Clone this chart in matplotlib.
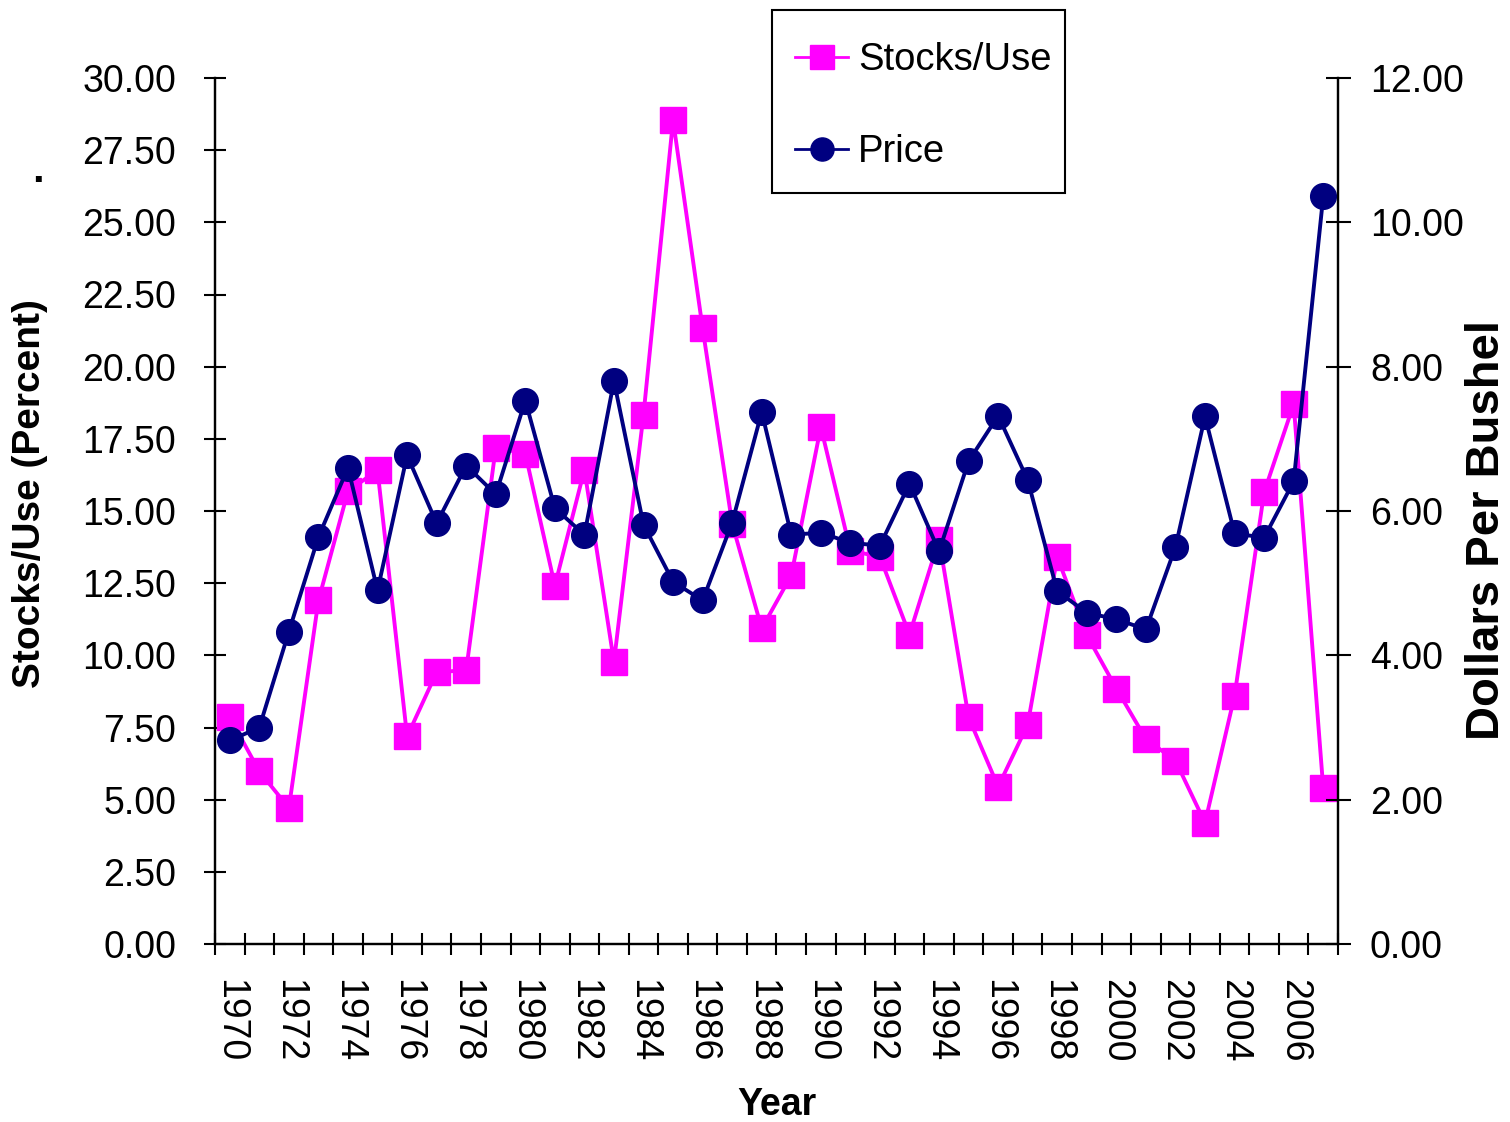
import matplotlib
matplotlib.use("Agg")
import matplotlib.pyplot as plt
from matplotlib.patches import Rectangle
from matplotlib.ticker import FixedLocator, FormatStrFormatter, NullFormatter
import numpy as np

years = list(range(1970, 2008))
stocks_use = [7.85, 5.98, 4.71, 11.9, 15.69, 16.41, 7.19, 9.41, 9.49, 17.19,
              16.99, 12.41, 16.43, 9.77, 18.34, 28.54, 21.33, 14.56, 10.93, 12.77,
              17.91, 13.63, 13.41, 10.72, 14.01, 7.85, 5.45, 7.6, 13.4, 10.7,
              8.85, 7.1, 6.35, 4.2, 8.6, 15.65, 18.7, 5.4]
price = [2.82, 3.0, 4.33, 5.64, 6.60, 4.90, 6.77, 5.83, 6.63, 6.23,
         7.53, 6.04, 5.67, 7.80, 5.81, 5.02, 4.76, 5.84, 7.37, 5.67,
         5.70, 5.56, 5.52, 6.38, 5.44, 6.69, 7.32, 6.43, 4.89, 4.59,
         4.50, 4.36, 5.50, 7.31, 5.69, 5.63, 6.41, 10.36]
left_ticks = [0, 2.5, 5, 7.5, 10, 12.5, 15, 17.5, 20, 22.5, 25, 27.5, 30]
right_ticks = [0, 2, 4, 6, 8, 10, 12]

FONT = ["Liberation Sans", "Arial", "DejaVu Sans"]
plt.rcParams["font.family"] = FONT

MAGENTA = "#FF00FF"
NAVY = "#000080"

W, H = 1510, 1122
fig = plt.figure(figsize=(W / 100, H / 100), dpi=100)
ax = fig.add_axes([215 / W, 1 - 944 / H, (1338 - 215) / W, (944 - 78) / H])
ax2 = ax.twinx()

x = np.arange(len(years))

l1, = ax.plot(x, stocks_use, color=MAGENTA, lw=2.8, marker="s", ms=18.5,
              mec=MAGENTA, mfc=MAGENTA, label="Stocks/Use", clip_on=False)
l2, = ax2.plot(x, price, color=NAVY, lw=2.8, marker="o", ms=18.5,
               mec=NAVY, mfc=NAVY, label="Price", clip_on=False)

ax.set_xlim(-0.5, len(years) - 0.5)
ax.set_ylim(0, 30)
ax2.set_ylim(0, 12)

for a in (ax, ax2):
    a.spines["top"].set_visible(False)
    for s in a.spines.values():
        s.set_linewidth(1.6)

# Left axis
ax.set_yticks(left_ticks)
ax.yaxis.set_major_formatter(FormatStrFormatter("%.2f"))
ax.tick_params(axis="y", direction="inout", length=16, width=1.5, pad=20,
               labelsize=27)

# Right axis
ax2.set_yticks(right_ticks)
ax2.yaxis.set_major_formatter(FormatStrFormatter("%.2f"))
ax2.tick_params(axis="y", direction="inout", length=18, width=1.5, pad=14,
                labelsize=27)

# Category axis: ticks at boundaries, labels at centres of every other year
ax.xaxis.set_major_locator(FixedLocator(np.arange(-0.5, len(years), 1.0)))
ax.xaxis.set_major_formatter(NullFormatter())
ax.tick_params(axis="x", which="major", direction="inout", length=16, width=1.5)
label_pos = x[::2]
ax.xaxis.set_minor_locator(FixedLocator(label_pos))
ax.set_xticklabels([str(years[i]) for i in label_pos], minor=True)
ax.tick_params(axis="x", which="minor", length=0, pad=25, labelsize=27,
               labelrotation=270)
for t in ax.get_xticklabels(minor=True):
    t.set_va("top")
    t.set_ha("center")

ax.set_xlabel("Year", fontsize=27, fontweight="bold", labelpad=18)

# Axis titles
fig.text(30 / W, 1 - 494 / H, "Stocks/Use (Percent)", fontsize=28,
         fontweight="bold", rotation=90, ha="center", va="center")
fig.text(1487 / W, 1 - 530 / H, "Dollars Per Bushel", fontsize=34,
         fontweight="bold", rotation=90, ha="center", va="center")

fig.text(38 / W, 1 - 182 / H, ".", fontsize=30, fontweight="bold",
         ha="center", va="baseline")

# Legend box and entries
fig.patches.append(Rectangle((772 / W, 1 - 193 / H), (1065 - 772) / W,
                             (193 - 10) / H, transform=fig.transFigure,
                             fill=False, edgecolor="black", linewidth=1.5,
                             zorder=5))
leg = fig.legend(handles=[l1, l2], loc="upper left",
                 bbox_to_anchor=(795 / W, 1 - 42 / H),
                 fontsize=27.5, frameon=False, borderpad=0,
                 labelspacing=1.47, handlelength=1.4, handletextpad=0.25,
                 borderaxespad=0, markerscale=0.9)
for h in leg.legend_handles:
    h.set_linewidth(2.0)

fig.savefig("out.png", dpi=100)
